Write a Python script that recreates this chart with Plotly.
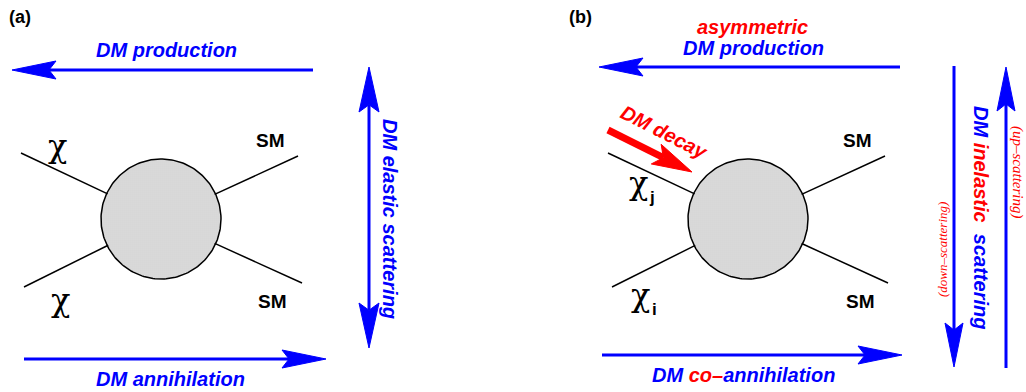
import numpy as np
import plotly.graph_objects as go

W, H = 1026, 392
BLUE = "#0000ff"
RED = "#ff0000"
SANS = "Liberation Sans"
SERIF = "DejaVu Serif"

# ---- diagram content -------------------------------------------------------
panel_labels = ["(a)", "(b)"]
panel_label_pos = [(20, 17), (580, 17)]

blob_centers = [(161, 219), (748, 219)]
blob_radius = 60

# external legs: (outer end) for each blob, order UL, UR, LL, LR
legs_a = [(21, 153), (298, 156), (24, 287), (302, 283)]
legs_b = [(608, 153), (885, 156), (612, 287), (888, 283)]

# straight blue arrows: (start, tip)
arrows = [
    ((313, 70), (12, 70)),      # (a) DM production
    ((24, 359), (326, 359)),    # (a) DM annihilation
    ((900, 67), (599, 67)),     # (b) asymmetric DM production
    ((602, 355), (902, 355)),   # (b) DM co-annihilation
    ((954, 66), (954, 367)),    # (b) down-scattering
    ((1006, 368), (1006, 67)),  # (b) up-scattering
]
double_arrow = ((369, 67), (369, 348))  # (a) elastic scattering
decay_arrow = ((608, 130), (692, 172))  # (b) DM decay

# texts: (text, x, y, size, color, family, angle)
texts = [
    ("<b><i>DM production</i></b>", 166, 50, 20, BLUE, SANS, 0),
    ("<b><i>DM annihilation</i></b>", 170, 379, 20, BLUE, SANS, 0),
    ("<b><i>DM elastic scattering</i></b>", 390, 219, 20, BLUE, SANS, 90),
    ("<b><i>asymmetric</i></b>", 752, 27, 20, RED, SANS, 0),
    ("<b><i>DM production</i></b>", 753, 48, 20, BLUE, SANS, 0),
    ("<b><i>DM decay</i></b>", 664, 132, 20, RED, SANS, 27),
    ("<b><i>DM <span style='color:#ff0000'>co–</span>annihilation</i></b>", 743, 375, 20, BLUE, SANS, 0),
    ("<b><i>DM <span style='color:#ff0000'>inelastic</span>  scattering</i></b>", 981, 217, 20, BLUE, SANS, 90),
    ("<i>(down–scattering)</i>", 942, 250, 13, RED, "Liberation Serif", -90),
    ("<i>(up–scattering)</i>", 1018, 172, 15, RED, "Liberation Serif", 90),
    ("<b>SM</b>", 270, 140, 19, "black", SANS, 0),
    ("<b>SM</b>", 272, 301, 19, "black", SANS, 0),
    ("<b>SM</b>", 857, 140, 19, "black", SANS, 0),
    ("<b>SM</b>", 860, 301, 19, "black", SANS, 0),
]
chi_labels = [
    ("χ", "", 57, 146),
    ("χ", "", 60, 300),
    ("χ", "j", 638, 183),
    ("χ", "i", 640, 295),
]

# ---- helpers ----------------------------------------------------------------
shapes = []


def line(p, q, color, width):
    shapes.append(dict(type="line", x0=p[0], y0=p[1], x1=q[0], y1=q[1],
                       line=dict(color=color, width=width), layer="above"))


def head(tip, start, length, half, color, notch=0.84):
    d = np.array(tip, float) - np.array(start, float)
    d /= np.linalg.norm(d)
    n = np.array([-d[1], d[0]])
    t = np.array(tip, float)
    b1 = t - length * d + half * n
    b2 = t - length * d - half * n
    nb = t - notch * length * d
    path = "M {} {} L {} {} L {} {} L {} {} Z".format(t[0], t[1], b1[0], b1[1], nb[0], nb[1], b2[0], b2[1])
    shapes.append(dict(type="path", path=path, fillcolor=color,
                       line=dict(color=color, width=1), layer="above"))
    return nb


def arrow(start, tip, color=BLUE, width=3, length=44, half=9):
    nb = head(tip, start, length, half, color)
    line(start, nb, color, width)


for s, t in arrows:
    arrow(s, t)

a, b = double_arrow
nb1 = head(a, b, 45, 10, BLUE)
nb2 = head(b, a, 45, 10, BLUE)
line(nb1, nb2, BLUE, 3)

s, t = decay_arrow
nb = head(t, s, 40, 11, RED, notch=0.8)
line(s, nb, RED, 7)

fig = go.Figure()

for (cx, cy), legs in zip(blob_centers, [legs_a, legs_b]):
    for (x, y) in legs:
        d = np.array([cx - x, cy - y], float)
        L = np.linalg.norm(d)
        e = np.array([x, y]) + d * (L - blob_radius + 1) / L
        line((x, y), e, "black", 1.5)
    th = np.linspace(0, 2 * np.pi, 200)
    fig.add_trace(go.Scatter(
        x=cx + blob_radius * np.cos(th), y=cy + blob_radius * np.sin(th),
        mode="lines", fill="toself", line=dict(color="black", width=1.5),
        fillcolor="#d6d6d6",
        fillpattern=dict(shape=".", size=2, solidity=0.4, fgcolor="#808080", bgcolor="#ececec"),
        hoverinfo="skip", showlegend=False))

annotations = []
for txt, x, y, size, color, fam, ang in texts:
    annotations.append(dict(x=x, y=y, text=txt, showarrow=False, textangle=ang,
                            font=dict(size=size, color=color, family=fam),
                            xanchor="center", yanchor="middle"))
for txt, (x, y) in zip(panel_labels, panel_label_pos):
    annotations.append(dict(x=x, y=y, text="<b>" + txt + "</b>", showarrow=False,
                            font=dict(size=18, color="black", family=SANS),
                            xanchor="center", yanchor="middle"))
for chi, sub, x, y in chi_labels:
    annotations.append(dict(x=x, y=y, text=chi, showarrow=False,
                            font=dict(size=32, color="black", family=SERIF),
                            xanchor="center", yanchor="middle"))
    if sub:
        annotations.append(dict(x=x + 14, y=y + 14, text="<b>" + sub + "</b>", showarrow=False,
                                font=dict(size=17, color="black", family=SANS),
                                xanchor="center", yanchor="middle"))

fig.update_layout(
    width=W, height=H, margin=dict(l=0, r=0, t=0, b=0),
    paper_bgcolor="white", plot_bgcolor="white",
    xaxis=dict(range=[0, W], visible=False, fixedrange=True),
    yaxis=dict(range=[H, 0], visible=False, fixedrange=True),
    shapes=shapes, annotations=annotations, showlegend=False,
)
fig.write_html("out.html", config={"displayModeBar": False},
               post_script="document.body.style.margin='0px';document.body.style.overflow='hidden';")
